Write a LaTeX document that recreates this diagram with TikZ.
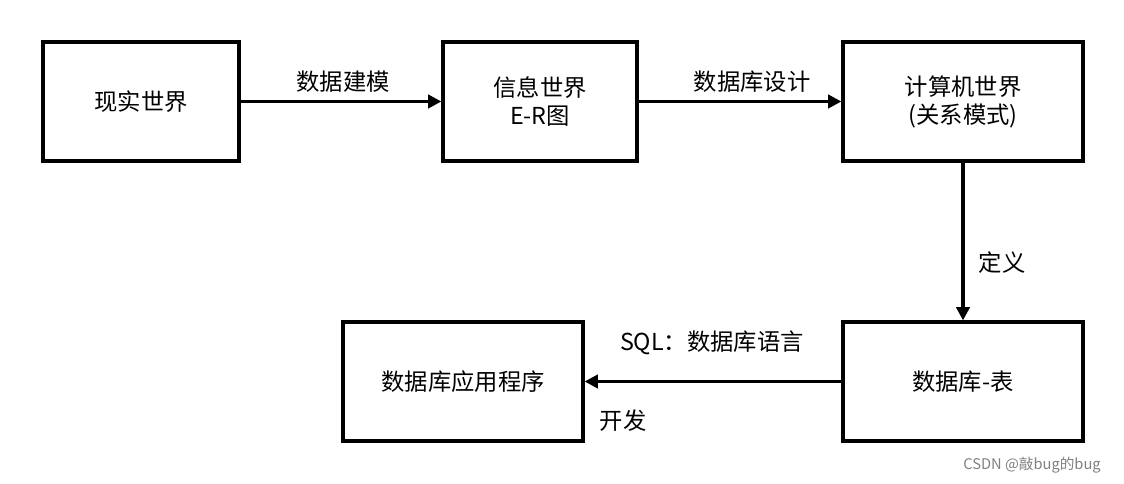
\documentclass[tikz,border=0pt]{standalone}
\usepackage{fontspec}
\setmainfont{Noto Sans CJK SC}
\usetikzlibrary{arrows.meta}
\begin{document}
\begin{tikzpicture}[x=0.75pt,y=-0.75pt,
  box/.style={draw,line width=2.4pt,minimum width=#1*0.75pt,minimum height=119*0.75pt,inner sep=0pt,align=center,font=\fontsize{17.5}{21}\selectfont},
  box/.default=196,
  arr/.style={line width=2.4pt,-{Triangle[length=10pt,width=10pt]}},
  lbl/.style={font=\fontsize{17.5}{21}\selectfont}]
\useasboundingbox[fill=white] (0,0) rectangle (1124,484);
\node[box=196] (a) at (141,101.5) {现实世界};
\node[box=194] (b) at (540,101.5) {信息世界\\E-R图};
\node[box=240] (c) at (963,101.5) {计算机世界\\(关系模式)};
\node[box=240] (d) at (963,381.5) {数据库-表};
\node[box=240] (e) at (463,381.5) {数据库应用程序};
\draw[arr] (a) -- (b);
\draw[arr] (b) -- (c);
\draw[arr] (c) -- (d);
\draw[arr] (d) -- (e);
\node[lbl] (l1) at (343,82) {数据建模};
\node[lbl] (l2) at (752,82) {数据库设计};
\node[lbl] (l3) at (1002,263) {定义};
\node[lbl] (l4) at (712,343) {SQL：数据库语言};
\node[lbl] (l5) at (623,421) {开发};
\node[font=\fontsize{11}{13}\selectfont,text=gray] (w) at (1032,465) {CSDN @敲bug的bug};
\end{tikzpicture}
\end{document}
